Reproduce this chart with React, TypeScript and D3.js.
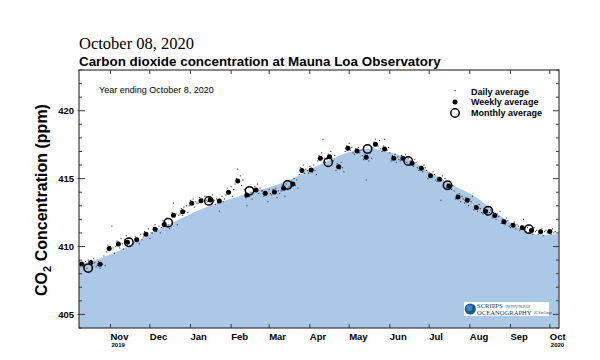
import React from "react";
import * as d3 from "d3";

// ---------- data ----------
const startDate = new Date(2019, 9, 8);
const endDate = new Date(2020, 9, 8);

// smooth seasonal fit (top edge of the blue area)
const fitDates = [
  "2019-10-08", "2019-11-09", "2019-12-12", "2020-01-12", "2020-02-10", "2020-03-14",
  "2020-04-08", "2020-05-04", "2020-05-17", "2020-05-29", "2020-06-14", "2020-07-01",
  "2020-07-16", "2020-08-03", "2020-08-29", "2020-09-13", "2020-09-23", "2020-10-08",
];
const fitValues = [
  408.6, 409.75, 411.45, 412.85, 413.8, 414.8,
  416.0, 417.04, 417.23, 416.99, 416.5, 415.5,
  414.66, 413.8, 411.96, 411.1, 410.86, 410.93,
];

// monthly averages (mid-month)
const monthlyValues = [
  408.41, 410.32, 411.76, 413.36, 414.1, 414.54,
  416.21, 417.18, 416.3, 414.51, 412.63, 411.28,
];

// weekly averages, first week centred on 2019-10-10
const weeklyStart = "2019-10-10";
const weeklyValues = [
  408.71, 408.82, 408.7, 409.85, 410.18, 410.32, 410.49, 410.91, 411.28, 411.62,
  412.31, 412.57, 413.19, 413.38, 413.42, 413.36, 414.0, 414.83, 413.8, 414.17,
  413.93, 414.02, 414.29, 414.61, 415.59, 415.64, 416.5, 416.62, 415.88, 417.24,
  417.04, 416.57, 417.53, 417.18, 416.5, 416.5, 416.13, 415.76, 415.22, 414.96,
  414.45, 413.65, 413.41, 412.87, 412.6, 412.28, 411.82, 411.57, 411.38, 411.18,
  411.08, 411.1,
];

// daily averages, one row per week (7 days each), starting 2019-10-08
const dailyRows: (number | null)[][] = [
  [408.9, 408.6, 408.8, 408.5, 408.7, 408.9, 408.4],
  [409.0, 408.7, 408.9, null, 409.1, 408.8, 408.5],
  [408.6, 408.9, 408.4, 408.8, 408.7, 409.3, 408.6],
  [409.6, 410.1, 409.7, 410.0, 411.5, 409.9, 409.5],
  [410.0, 410.4, 410.3, 409.9, 410.6, 410.2, 409.8],
  [410.5, 410.8, 410.1, 410.6, 410.0, null, 410.2],
  [410.3, 410.7, 410.4, 410.6, 410.2, 410.9, 410.5],
  [410.7, 411.1, 410.8, 411.0, 411.3, 410.6, 411.0],
  [411.0, 411.4, 411.6, 411.1, 411.3, 411.5, 411.0],
  [411.4, 411.9, 411.5, 411.8, 412.1, 411.6, 411.3],
  [412.0, 412.5, 413.2, 412.2, 412.4, 411.6, 412.3],
  [412.4, 412.8, 412.3, 412.9, 412.6, 413.0, 412.5],
  [413.0, 413.4, 413.1, 413.5, 412.9, 413.3, 413.2],
  [413.2, 413.6, 413.3, 413.5, null, 413.7, 413.4],
  [413.3, 413.6, 413.5, 413.2, 413.8, 413.4, 413.1],
  [413.5, 413.2, 412.6, 413.4, 413.7, 413.3, 413.5],
  [413.8, 414.3, 414.1, 413.9, 414.4, 413.7, 414.2],
  [414.6, 415.0, 415.7, 414.8, 415.2, 414.5, 414.9],
  [414.2, 413.6, 413.0, 413.9, 413.7, 414.0, 413.5],
  [414.0, 414.4, 414.2, 414.6, 413.9, 414.3, 414.1],
  [414.1, 413.7, 414.0, 413.8, 413.3, 414.2, 413.9],
  [413.8, 414.2, 414.0, 414.3, 413.6, 414.1, 413.9],
  [414.1, 414.5, 414.3, 413.7, 414.6, 414.2, 414.4],
  [414.4, 414.8, 414.6, 415.0, 414.5, 414.9, 414.3],
  [415.3, 415.8, 415.5, 416.0, 415.4, 415.7, 415.6],
  [415.4, 415.9, 415.7, 415.5, 416.0, 415.6, 415.3],
  [416.3, 416.7, 416.4, 416.9, 417.9, 416.5, 416.2],
  [416.4, 416.8, 416.6, 417.0, 416.5, 416.3, 416.7],
  [415.6, 416.1, 415.9, 415.7, 416.2, 415.8, 415.5],
  [417.0, 417.4, 417.2, 417.6, 417.1, 417.3, 416.9],
  [416.8, 417.2, 417.0, 417.3, 416.9, 417.1, 416.7],
  [416.4, 416.8, 414.9, 416.6, 416.3, 416.9, 416.5],
  [417.3, 417.7, 417.9, 417.5, 417.4, 417.8, 417.2],
  [417.0, 417.4, 417.9, 417.2, 417.1, 417.3, 416.9],
  [416.3, 416.7, 416.5, 416.8, 416.2, 416.6, 416.4],
  [416.3, 416.7, 416.6, 416.4, 416.8, 416.2, 416.5],
  [416.0, 416.3, 416.1, 415.9, 416.4, 416.2, 415.8],
  [415.6, 415.9, 415.7, 415.5, 416.0, 415.8, 415.6],
  [415.0, 415.4, 415.2, 415.1, 415.5, 415.3, 414.9],
  [414.8, 415.1, 414.9, 413.4, 415.2, 414.7, 415.0],
  [414.3, 414.6, 414.4, 414.7, 414.2, 414.5, 414.1],
  [413.5, 413.8, 413.6, 413.9, 413.3, 413.7, 413.5],
  [413.2, 413.6, 413.4, 413.0, 413.5, 413.3, 413.7],
  [412.7, 413.0, 412.9, 412.6, 413.1, 412.8, 412.5],
  [412.4, 412.8, 412.6, 412.3, 412.9, 412.5, 412.7],
  [412.1, 412.5, 412.3, 412.0, 412.4, 412.2, 412.6],
  [411.7, 412.0, 411.8, 411.6, 412.1, 411.9, 411.5],
  [411.4, 411.7, 411.5, 411.8, 411.3, 411.6, 411.5],
  [411.2, 411.5, 411.3, 412.0, 411.4, 411.1, 411.4],
  [411.0, 411.3, 411.2, 410.9, 411.4, 411.1, 411.2],
  [410.9, 411.2, 411.0, 411.3, 410.8, 411.1, 411.2],
  [411.0, 411.2, 411.1, 410.9, 411.3, 411.0, 411.1],
];

const yMajorTicks = [405, 410, 415, 420];
const monthLabels = ["Nov", "Dec", "Jan", "Feb", "Mar", "Apr", "May", "Jun", "Jul", "Aug", "Sep", "Oct"];
const yearLabels: Record<string, string> = { Nov: "2019", Oct: "2020" };
const legendItems = ["Daily average", "Weekly average", "Monthly average"];

// ---------- layout ----------
const W = 600;
const H = 360;
const L = 79;
const R = 559;
const T = 70;
const B = 328;
const sans = "'Liberation Sans', Arial, Helvetica, sans-serif";
const serif = "'Liberation Serif', 'Times New Roman', serif";
const axisColor = "#3a3a3a";

export default function App() {
  const parse = d3.timeParse("%Y-%m-%d");
  const x = d3.scaleTime().domain([startDate, endDate]).range([L, R]);
  const y = d3.scaleLinear().domain([404, 423]).range([B, T]);

  const fit = fitDates.map((d, i) => ({ date: parse(d) as Date, v: fitValues[i] }));
  const area = d3
    .area<{ date: Date; v: number }>()
    .x((d) => x(d.date))
    .y0(B)
    .y1((d) => y(d.v))
    .curve(d3.curveMonotoneX);

  const wStart = parse(weeklyStart) as Date;
  const weekly = weeklyValues.map((v, i) => ({ date: d3.timeDay.offset(wStart, 7 * i), v }));
  const monthly = monthlyValues.map((v, i) => ({ date: new Date(2019, 9 + i, 15), v }));
  const daily: { date: Date; v: number }[] = [];
  dailyRows.forEach((row, i) =>
    row.forEach((v, j) => {
      if (v != null) daily.push({ date: d3.timeDay.offset(startDate, 7 * i + j), v });
    })
  );

  const monthTicks = d3.timeMonth.range(new Date(2019, 10, 1), new Date(2020, 9, 2));
  const minorTicks = d3.range(404, 424, 1);

  return (
    <svg
      width={W}
      height={H}
      viewBox={`0 0 ${W} ${H}`}
      style={{ position: "absolute", left: 0, top: 0, display: "block", background: "#fff" }}
    >
      <rect x={0} y={0} width={W} height={H} fill="#fff" />
      {/* titles */}
      <text x={L} y={49} fontFamily={serif} fontSize={16.5} fill="#000">
        October 08, 2020
      </text>
      <text x={L} y={65.5} fontFamily={sans} fontSize={13.4} fontWeight="bold" fill="#000">
        Carbon dioxide concentration at Mauna Loa Observatory
      </text>

      {/* area */}
      <path d={area(fit) || ""} fill="#abc8e7" />

      {/* daily */}
      {daily.map((d, i) => (
        <rect key={"d" + i} x={x(d.date) - 0.55} y={y(d.v) - 0.55} width={1.1} height={1.1} fill="#333" />
      ))}
      {/* weekly */}
      {weekly.map((d, i) => (
        <circle key={"w" + i} cx={x(d.date)} cy={y(d.v)} r={2.5} fill="#000" />
      ))}
      {/* monthly */}
      {monthly.map((d, i) => (
        <circle key={"m" + i} cx={x(d.date)} cy={y(d.v)} r={4.2} fill="none" stroke="#000" strokeWidth={1.5} />
      ))}

      {/* frame */}
      <rect x={L} y={T} width={R - L} height={B - T} fill="none" stroke={axisColor} strokeWidth={1.2} />

      {/* y ticks */}
      {minorTicks.map((v) => {
        const major = yMajorTicks.includes(v);
        const len = major ? 6 : 3;
        return (
          <g key={"yt" + v}>
            <line x1={L - (major ? 1.5 : 0)} x2={L + len} y1={y(v)} y2={y(v)} stroke={axisColor} strokeWidth={1} />
            <line x1={R} x2={R - len} y1={y(v)} y2={y(v)} stroke={axisColor} strokeWidth={1} />
          </g>
        );
      })}
      {yMajorTicks.map((v) => (
        <text
          key={"yl" + v}
          x={74}
          y={y(v)}
          dy="0.35em"
          textAnchor="end"
          fontFamily={sans}
          fontSize={9.5}
          fontWeight="bold"
          fill="#000"
        >
          {v}
        </text>
      ))}

      {/* x ticks */}
      {monthTicks.map((d, i) => (
        <g key={"xt" + i}>
          <line x1={x(d)} x2={x(d)} y1={B} y2={B - 4} stroke={axisColor} strokeWidth={1} />
          <line x1={x(d)} x2={x(d)} y1={T} y2={T + 4} stroke={axisColor} strokeWidth={1} />
          <text x={x(d)} y={340} fontFamily={sans} fontSize={9.5} fontWeight="bold" fill="#000">
            {monthLabels[i]}
          </text>
          {yearLabels[monthLabels[i]] && (
            <text x={x(d) + 1} y={347} fontFamily={sans} fontSize={6} fontWeight="bold" fill="#000">
              {yearLabels[monthLabels[i]]}
            </text>
          )}
        </g>
      ))}

      {/* y axis label */}
      <text
        transform={`translate(47,200) rotate(-90)`}
        textAnchor="middle"
        fontFamily={sans}
        fontSize={16}
        fontWeight="bold"
        fill="#000"
      >
        CO
        <tspan fontSize={11} dy={4}>
          2
        </tspan>
        <tspan dy={-4}> Concentration (ppm)</tspan>
      </text>

      {/* annotation */}
      <text x={99} y={93} fontFamily={sans} fontSize={9} fill="#000">
        Year ending October 8, 2020
      </text>

      {/* legend */}
      <rect x={454.4} y={90.1} width={1.2} height={1.2} fill="#222" />
      <circle cx={455} cy={102} r={2.5} fill="#000" />
      <circle cx={455} cy={113} r={4.2} fill="none" stroke="#000" strokeWidth={1.5} />
      {legendItems.map((t, i) => (
        <text key={t} x={471} y={94.5 + i * 10.9} fontFamily={sans} fontSize={9} fontWeight="bold" fill="#000">
          {t}
        </text>
      ))}

      {/* logo */}
      <g>
        <rect x={464} y={302} width={85} height={14} fill="#fff" />
        <circle cx={470.3} cy={309} r={5.6} fill="#1d5a92" />
        <circle cx={469.3} cy={308} r={3} fill="#3f86c4" />
        <text x={477} y={308.2} fontFamily={serif} fontSize={6.6} fill="#1a3d66">
          SCRIPPS
        </text>
        <text x={505.5} y={307.6} fontFamily={serif} fontSize={3.2} fill="#1a3d66">
          INSTITUTION OF
        </text>
        <text x={477} y={314.6} fontFamily={serif} fontSize={6.6} fill="#1a3d66">
          OCEANOGRAPHY
        </text>
        <text x={533.8} y={314.4} fontFamily={sans} fontSize={2.8} fill="#1a3d66">
          UC San Diego
        </text>
      </g>
    </svg>
  );
}
